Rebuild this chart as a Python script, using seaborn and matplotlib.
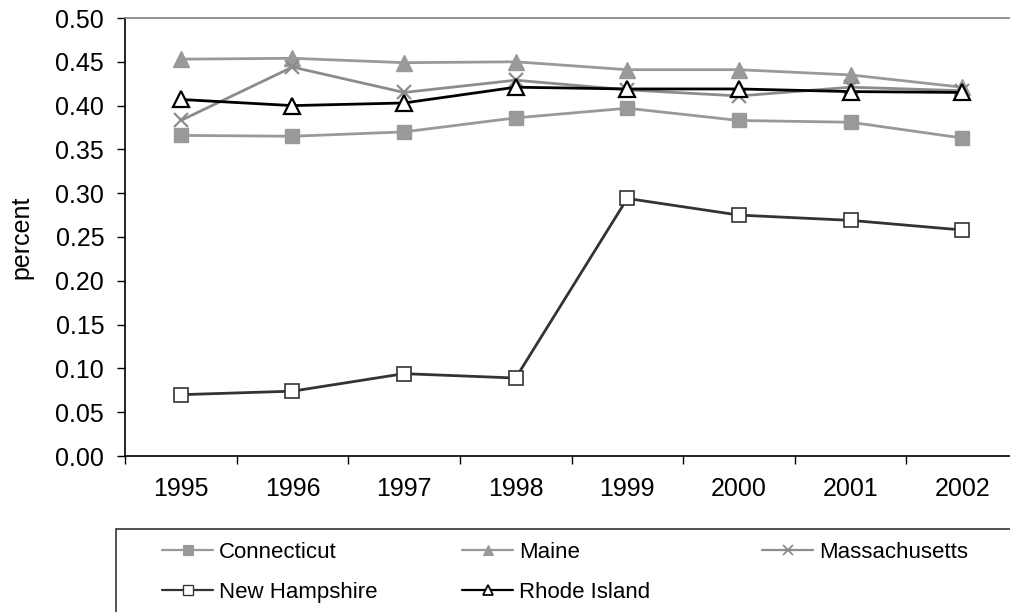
import matplotlib
matplotlib.use("Agg")
import matplotlib.pyplot as plt
import seaborn as sns
import pandas as pd
from matplotlib.patches import Rectangle
from matplotlib.lines import Line2D
from matplotlib.ticker import FixedLocator

years = ["1995", "1996", "1997", "1998", "1999", "2000", "2001", "2002"]
connecticut = [0.366, 0.365, 0.370, 0.386, 0.397, 0.383, 0.381, 0.363]
maine = [0.453, 0.454, 0.449, 0.450, 0.441, 0.441, 0.435, 0.421]
massachusetts = [0.383, 0.444, 0.415, 0.429, 0.418, 0.411, 0.421, 0.417]
new_hampshire = [0.070, 0.074, 0.094, 0.089, 0.294, 0.275, 0.269, 0.258]
rhode_island = [0.407, 0.400, 0.403, 0.421, 0.419, 0.419, 0.416, 0.415]
yticks = [0.00, 0.05, 0.10, 0.15, 0.20, 0.25, 0.30, 0.35, 0.40, 0.45, 0.50]

series = [
    ("Connecticut", connecticut, dict(color="#999999", marker="s", mfc="#999999", mec="#999999", ms=9.5, mew=1)),
    ("Maine", maine, dict(color="#999999", marker="^", mfc="#999999", mec="#999999", ms=11, mew=1)),
    ("Massachusetts", massachusetts, dict(color="#8c8c8c", marker="x", mfc="none", mec="#8c8c8c", ms=10, mew=1.6)),
    ("New Hampshire", new_hampshire, dict(color="#333333", marker="s", mfc="white", mec="#333333", ms=9.5, mew=1.2)),
    ("Rhode Island", rhode_island, dict(color="#000000", marker="^", mfc="white", mec="#000000", ms=11, mew=1.6)),
]

sns.set_theme(style="white")
plt.rcParams['font.family'] = ['Liberation Sans', 'DejaVu Sans']
plt.rcParams.update({"text.color": "black", "axes.labelcolor": "black",
                     "xtick.color": "black", "ytick.color": "black"})

fig = plt.figure(figsize=(10.1, 6.12), dpi=100)
ax = fig.add_axes([125/1010, 1 - 456/612, 893/1010, (456-18)/612])

for name, vals, st in series:
    df = pd.DataFrame({"x": list(range(len(years))), "y": vals})
    sns.lineplot(data=df, x="x", y="y", ax=ax, color=st["color"], linewidth=2,
                 marker=st["marker"], markersize=st["ms"], markerfacecolor=st["mfc"],
                 markeredgecolor=st["mec"], markeredgewidth=st["mew"],
                 legend=False, clip_on=False)

ax.set_xlim(-0.5, len(years) - 0.5)
ax.set_ylim(0, 0.5)
ax.set_xticks(range(len(years)))
ax.set_xticklabels(years)
ax.xaxis.set_minor_locator(FixedLocator([i - 0.5 for i in range(len(years) + 1)]))
ax.tick_params(axis="x", which="major", length=0, pad=15, labelsize=18, labelcolor="black")
ax.tick_params(axis="x", which="minor", length=6, width=1, color="black", direction="out", bottom=True)
ax.set_yticks(yticks)
ax.set_yticklabels([f"{v:.2f}" for v in yticks])
ax.tick_params(axis="y", length=6, width=1, color="black", direction="out", left=True,
               labelsize=18, pad=9, labelcolor="black")
ax.set_xlabel("")
ax.set_ylabel("percent", fontsize=18, labelpad=16, color="black")
for s in ["left", "bottom"]:
    ax.spines[s].set_color("black")
    ax.spines[s].set_linewidth(1.2)
ax.spines["top"].set_color("#808080")
ax.spines["top"].set_linewidth(1.2)
ax.spines["right"].set_visible(False)
ax.grid(False)

# legend box
fig.patches.append(Rectangle((116/1010, -0.05), 900/1010, (612-529)/612 + 0.05, transform=fig.transFigure,
                             facecolor="white", edgecolor="#333333", linewidth=1.2))
handles = []
for name, vals, st in series:
    handles.append(Line2D([], [], color=st["color"], linewidth=1.6, marker=st["marker"],
                          markersize=st["ms"] * 0.7, markerfacecolor=st["mfc"],
                          markeredgecolor=st["mec"], markeredgewidth=st["mew"] * 0.8))
cols = [(0, 3), (1, 4), (2,)]
xs = [162, 462, 762]
for xpos, idxs in zip(xs, cols):
    hs = [handles[i] for i in idxs]
    labs = [series[i][0] for i in idxs]
    leg = fig.legend(hs, labs, loc="upper left", bbox_to_anchor=(xpos/1010, 1 - 542/612),
                     frameon=False, fontsize=16, handlelength=2.3, handletextpad=0.27,
                     labelspacing=0.85, borderpad=0, borderaxespad=0)
    for t in leg.get_texts():
        t.set_color("black")

fig.savefig("out.png", dpi=100)
